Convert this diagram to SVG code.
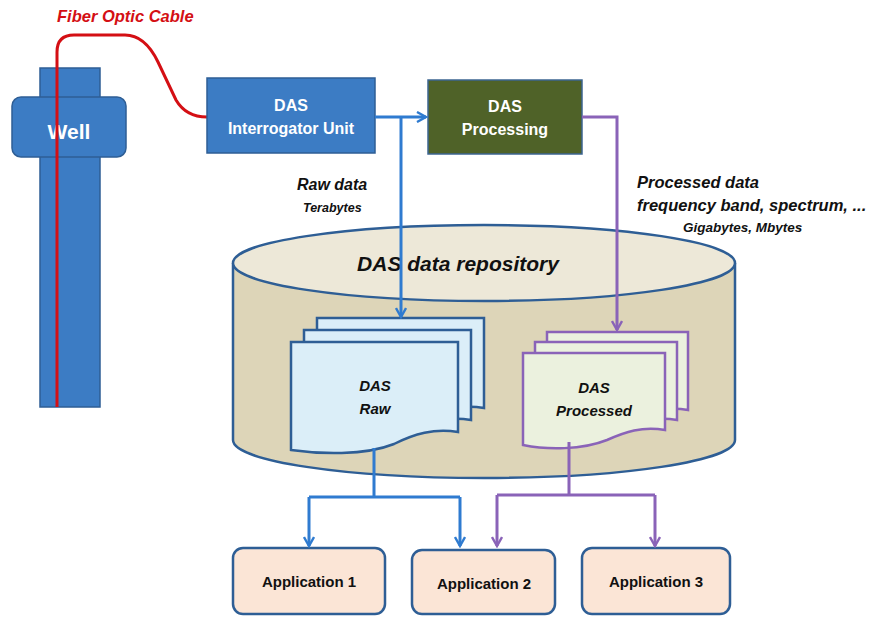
<svg xmlns="http://www.w3.org/2000/svg" width="871" height="617" viewBox="0 0 871 617">
<defs>
<marker id="ab" viewBox="0 0 12 12" refX="10" refY="6" markerWidth="12" markerHeight="12" markerUnits="userSpaceOnUse" orient="auto">
<path d="M1,1 L10,6 L1,11" fill="none" stroke="#2f7bd0" stroke-width="2.4"/>
</marker>
<marker id="ap" viewBox="0 0 12 12" refX="10" refY="6" markerWidth="12" markerHeight="12" markerUnits="userSpaceOnUse" orient="auto">
<path d="M1,1 L10,6 L1,11" fill="none" stroke="#8a63b8" stroke-width="2.4"/>
</marker>
<style>
text{font-family:"Liberation Sans",Arial,sans-serif;font-weight:bold}
.w{fill:#fff;font-size:16px;text-anchor:middle}
.it{font-style:italic;fill:#111}
.b{fill:none;stroke:#2f7bd0;stroke-width:3}
.p{fill:none;stroke:#8a63b8;stroke-width:3}
.docb{fill:#dbeef8;stroke:#2e5e95;stroke-width:2.5}
.docp{fill:#ebf1de;stroke:#8a63b8;stroke-width:2.5}
.appbox{fill:#fbe5d6;stroke:#2e5e95;stroke-width:2.5}
.at{font-size:15px;text-anchor:middle;fill:#111}
</style>
</defs>

<g id="well">
<rect x="40" y="68" width="60" height="339" fill="#3c7cc4" stroke="#2e5e95" stroke-width="1.5"/>
<rect x="12" y="97" width="114" height="60" rx="9" fill="#3c7cc4" stroke="#2e5e95" stroke-width="1.5"/>
<text x="69" y="139" class="w" style="font-size:21px">Well</text>
</g>

<g id="fiber">
<path d="M57,407 L57,52 Q57,35 74,35 L125,35 Q145,35 158,62 L176,100 Q186,117 207,117" fill="none" stroke="#d40f14" stroke-width="3"/>
<text x="57" y="22" style="fill:#d40f14;font-style:italic;font-size:16.5px">Fiber Optic Cable</text>
</g>

<g id="repository">
<path d="M233,263 L233,440 A251,38 0 0 0 735,440 L735,263" fill="#ddd5b8" stroke="#2e5e95" stroke-width="2.5"/>
<ellipse cx="484" cy="263" rx="251" ry="38" fill="#ede8d8" stroke="#2e5e95" stroke-width="2.5"/>
<text x="458" y="271" class="it" style="font-size:21px;text-anchor:middle">DAS data repository</text>
</g>

<g id="interrogator">
<rect x="207" y="78" width="168" height="75" fill="#3c7cc4" stroke="#2e5e95" stroke-width="1.5"/>
<text x="291" y="111" class="w">DAS</text>
<text x="291" y="134" class="w">Interrogator Unit</text>
</g>

<g id="processing">
<rect x="428" y="80" width="154" height="74" fill="#4f6228" stroke="#3d6591" stroke-width="1.5"/>
<text x="505" y="112" class="w">DAS</text>
<text x="505" y="135" class="w">Processing</text>
</g>

<g id="das-raw">
<path class="docb" d="M317,318 H484 V408 C460,404 440,410 420,420 C390,432 345,430 317,426 Z"/>
<path class="docb" d="M304,330 H471 V420 C447,416 427,422 407,432 C377,444 332,442 304,438 Z"/>
<path class="docb" d="M291,342 H458 V432 C434,428 414,434 394,444 C364,456 319,454 291,450 Z"/>
<text x="375" y="391" class="it" style="font-size:15px;text-anchor:middle">DAS</text>
<text x="375" y="414" class="it" style="font-size:15px;text-anchor:middle">Raw</text>
</g>

<g id="das-processed">
<path class="docp" d="M547,332 H688 V410 C665,406 648,412 630,420 C605,430 570,430 547,425 Z"/>
<path class="docp" d="M535,342 H677 V420 C654,416 637,422 619,430 C594,440 559,440 535,435 Z"/>
<path class="docp" d="M523,353 H665 V430 C642,426 625,432 607,440 C582,450 547,450 523,445 Z"/>
<text x="594" y="393" class="it" style="font-size:15px;text-anchor:middle">DAS</text>
<text x="594" y="416" class="it" style="font-size:15px;text-anchor:middle">Processed</text>
</g>

<g id="app1">
<rect class="appbox" x="233" y="548" width="152" height="66" rx="10"/>
<text x="309" y="587" class="at">Application  1</text>
</g>
<g id="app2">
<rect class="appbox" x="412" y="550" width="143" height="64" rx="10"/>
<text x="484" y="589" class="at">Application  2</text>
</g>
<g id="app3">
<rect class="appbox" x="582" y="548" width="148" height="66" rx="10"/>
<text x="656" y="587" class="at">Application  3</text>
</g>

<g id="connectors">
<path class="b" d="M375,117 H426" marker-end="url(#ab)"/>
<path class="b" d="M401,117 V317" marker-end="url(#ab)"/>
<path class="p" d="M582,117 H617 V330" marker-end="url(#ap)"/>
<path class="b" d="M374,448 V497 M309,497 H460"/>
<path class="b" d="M309,497 V546" marker-end="url(#ab)"/>
<path class="b" d="M460,497 V546" marker-end="url(#ab)"/>
<path class="p" d="M569,442 V495 M497,495 H655"/>
<path class="p" d="M497,495 V546" marker-end="url(#ap)"/>
<path class="p" d="M655,495 V546" marker-end="url(#ap)"/>
</g>

<g id="labels">
<text x="297" y="190" class="it" style="font-size:16px">Raw data</text>
<text x="303" y="212" class="it" style="font-size:12.5px">Terabytes</text>
<text x="637" y="188" class="it" style="font-size:16.5px">Processed data</text>
<text x="637" y="211" class="it" style="font-size:16.5px">frequency band, spectrum, ...</text>
<text x="683" y="232" class="it" style="font-size:13.5px">Gigabytes, Mbytes</text>
</g>
</svg>
